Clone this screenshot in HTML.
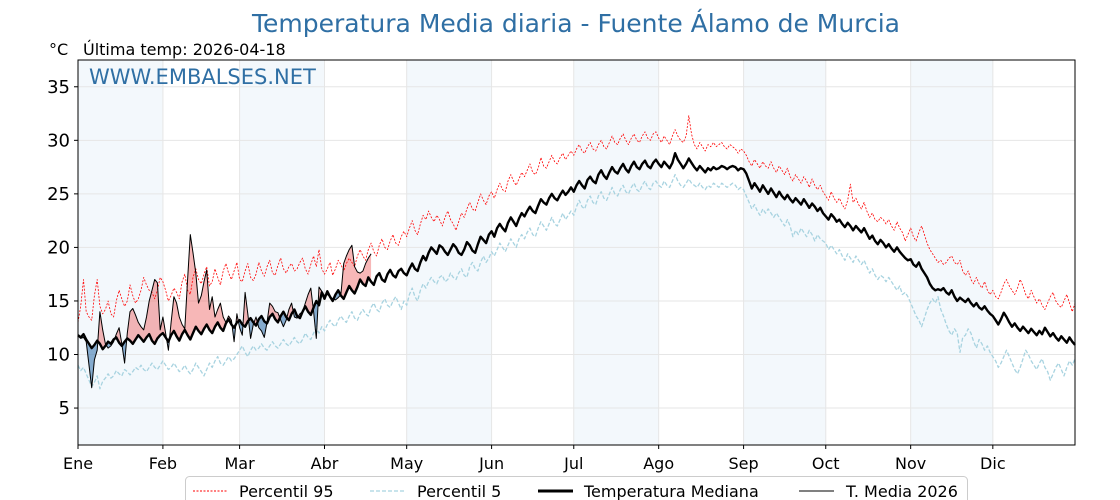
<!DOCTYPE html>
<html><head><meta charset="utf-8">
<style>
html,body{margin:0;padding:0;background:#fff;}
svg{display:block;font-family:"DejaVu Sans","Liberation Sans",sans-serif;}
</style></head>
<body>
<svg id="chart" width="1120" height="500" viewBox="0 0 1120 500" xmlns="http://www.w3.org/2000/svg">
<text x="576" y="32" text-anchor="middle" font-size="25" fill="#2f6fa4">Temperatura Media diaria - Fuente Álamo de Murcia</text>
<text x="49" y="55" font-size="16" fill="#000">°C</text>
<text x="83" y="55" font-size="16" fill="#000">Última temp: 2026-04-18</text>
<g id="bands"></g><g id="grid"></g><g id="fills"></g><g id="lines"></g><g id="axes"></g>
<text x="89" y="84" font-size="21" fill="#2f6fa4">WWW.EMBALSES.NET</text>
<g>
<rect x="185.5" y="476.5" width="782" height="30" rx="4" fill="#fff" stroke="#ccc"/>
<line x1="193" y1="491" x2="228" y2="491" stroke="red" stroke-width="1" stroke-dasharray="2,1.5"/>
<text x="239" y="497" font-size="16">Percentil 95</text>
<line x1="370" y1="491" x2="405" y2="491" stroke="#a8d3e0" stroke-width="1.3" stroke-dasharray="4,2"/>
<text x="417" y="497" font-size="16">Percentil 5</text>
<line x1="538" y1="491" x2="573" y2="491" stroke="#000" stroke-width="3"/>
<text x="584" y="497" font-size="16">Temperatura Mediana</text>
<line x1="799" y1="491" x2="834" y2="491" stroke="#000" stroke-width="1"/>
<text x="846" y="497" font-size="16">T. Media 2026</text>
</g>
</svg>
<script>
const monthLabels=["Ene","Feb","Mar","Abr","May","Jun","Jul","Ago","Sep","Oct","Nov","Dic"];
const monthStarts=[0,31,59,90,120,151,181,212,243,273,304,334];
const yTicks=[5,10,15,20,25,30,35];
const median=[11.8,11.6,11.9,11.4,11.0,10.6,10.9,11.3,11.0,10.5,10.8,11.2,11.0,11.4,11.6,11.1,10.8,11.2,11.5,11.3,11.0,11.4,11.8,11.5,11.2,11.6,11.9,11.3,11.0,11.5,11.8,
12.0,11.6,11.2,11.8,12.2,11.7,11.3,11.9,12.3,11.8,11.4,12.0,12.6,12.2,11.9,12.4,12.8,12.3,12.0,12.6,13.0,12.5,12.2,12.9,13.3,12.8,12.5,13.0,
13.2,12.8,12.6,13.1,13.4,13.0,12.7,13.3,13.6,13.1,12.9,13.5,13.8,13.3,13.0,13.6,14.0,13.5,13.2,13.8,14.2,13.6,13.4,14.0,14.5,14.0,13.7,14.4,15.0,14.6,15.8,
15.2,15.9,15.4,15.0,15.6,16.0,15.5,15.2,15.8,16.4,16.0,15.7,16.3,17.0,16.6,16.4,17.2,16.8,16.5,17.3,17.6,17.0,16.8,17.5,17.9,17.4,17.2,17.8,18.0,17.6,
17.4,18.0,18.5,18.0,17.8,18.6,19.2,18.8,19.5,20.0,19.7,19.4,20.2,20.0,19.6,19.3,19.8,20.3,20.0,19.5,19.3,19.8,20.5,20.2,19.7,19.5,20.3,21.0,20.7,20.4,21.2,
21.5,21.0,21.8,22.2,21.8,21.5,22.3,22.8,22.4,22.0,22.7,23.2,22.9,23.4,23.8,23.4,23.2,23.9,24.5,24.2,24.0,24.6,25.0,24.6,24.4,24.9,25.3,24.9,25.2,25.6,
25.2,25.8,26.2,25.8,25.5,26.3,26.6,26.2,26.0,26.8,27.2,26.7,26.4,27.0,27.5,27.1,26.9,27.4,27.8,27.3,27.0,27.6,28.0,27.5,27.3,27.8,28.1,27.6,27.4,27.9,28.2,
27.8,27.5,28.0,27.7,27.4,27.9,28.8,28.2,27.8,27.4,27.8,28.3,27.9,27.5,27.2,27.6,27.3,27.0,27.4,27.2,27.5,27.3,27.4,27.6,27.5,27.3,27.5,27.6,27.5,27.2,27.4,
27.3,26.9,26.2,25.5,26.0,25.6,25.2,25.8,25.4,25.0,25.5,25.1,24.7,25.2,24.8,24.5,24.9,24.5,24.2,24.6,24.3,24.0,24.5,24.1,23.7,24.1,23.8,23.4,23.7,23.2,
22.9,22.6,23.1,22.8,22.4,22.6,22.2,21.9,22.3,22.0,21.6,22.0,21.7,21.4,21.8,21.3,20.8,21.1,20.6,20.3,20.7,20.4,20.0,20.3,19.9,19.6,20.0,19.6,19.3,19.0,18.8,
18.9,18.4,18.2,18.6,18.0,17.6,17.2,16.6,16.2,16.0,16.1,16.0,16.2,15.8,15.6,16.0,15.4,15.0,15.3,15.1,14.9,15.2,14.8,14.5,14.8,14.4,14.2,14.5,14.1,13.8,
13.6,13.2,12.8,13.3,13.9,13.5,13.0,12.6,12.9,12.5,12.2,12.6,12.3,12.0,12.4,12.1,11.8,12.2,11.9,12.5,12.1,11.7,12.0,11.6,11.3,11.7,11.4,11.1,11.6,11.2,10.9];
const p95=[13.0,14.5,17.0,14.0,13.5,13.2,15.5,17.0,14.5,13.8,14.2,15.0,13.8,13.5,15.0,16.0,15.2,14.5,15.0,16.5,15.5,14.8,15.2,16.0,17.2,16.5,16.0,15.8,15.2,16.0,17.2,
16.8,16.0,15.0,15.5,16.2,15.8,15.2,16.8,17.5,16.0,15.6,17.2,18.0,17.0,16.6,17.5,18.2,16.4,16.8,18.0,17.2,16.5,17.8,18.5,17.6,17.0,17.8,18.6,
17.0,16.8,17.8,18.5,17.2,16.9,17.5,18.6,17.8,17.3,18.2,18.8,17.6,17.4,18.3,19.0,18.0,17.6,18.2,18.5,17.8,18.0,18.6,19.0,18.0,17.5,18.4,19.2,18.2,19.8,18.0,
17.5,18.0,18.6,17.4,18.0,18.8,18.4,17.8,18.5,19.0,18.6,18.2,19.2,19.8,19.2,18.8,19.8,20.4,19.6,19.2,20.2,20.8,20.0,19.8,20.6,21.2,20.4,20.2,21.0,21.5,
21.0,21.8,22.5,21.6,21.2,22.2,23.0,22.6,23.4,22.8,22.4,23.0,22.6,22.0,22.8,23.4,22.6,22.2,21.6,22.4,23.2,22.8,23.6,24.2,23.6,23.4,24.2,25.0,24.4,24.0,24.8,
25.2,24.6,25.4,26.0,25.4,25.2,26.2,26.8,26.2,25.8,26.4,27.0,26.6,27.2,27.8,27.0,26.8,27.4,28.4,27.6,27.4,28.0,28.6,28.0,27.8,28.4,28.8,28.2,28.6,29.0,
28.6,29.2,29.6,29.0,28.8,29.4,29.8,29.2,29.0,29.6,30.0,29.4,29.2,29.8,30.4,29.8,29.6,30.2,30.6,30.0,29.6,30.2,30.6,30.0,29.8,30.4,30.8,30.2,30.0,30.6,30.8,
30.2,29.8,30.4,30.0,29.6,30.4,31.0,30.4,30.0,29.8,30.4,32.3,30.6,29.6,29.2,29.8,29.4,29.0,29.6,29.4,29.8,29.4,29.6,29.8,29.4,29.2,29.6,29.4,29.2,28.8,29.2,
29.0,28.6,28.0,27.6,28.2,27.8,27.4,28.0,27.6,27.4,28.0,27.4,27.0,27.6,27.2,26.8,27.4,26.6,26.2,26.8,26.4,26.0,26.6,26.2,25.6,26.4,25.8,25.4,25.8,25.2,
24.8,24.4,25.2,24.6,24.2,24.6,24.0,23.6,24.4,25.9,24.2,24.6,24.0,23.6,24.2,23.4,22.8,23.2,22.6,22.4,22.8,22.6,22.2,22.6,22.0,21.6,22.4,21.8,21.4,20.6,21.2,
21.8,21.0,20.6,21.4,22.0,21.2,20.4,19.8,19.4,19.0,18.6,18.8,18.4,18.6,19.0,19.2,18.6,18.4,18.8,17.8,17.4,17.8,17.0,16.6,17.2,16.6,16.2,16.8,16.0,15.6,
16.0,15.4,15.2,15.8,16.6,17.0,16.4,16.0,15.6,16.2,17.0,16.4,15.6,15.2,16.0,15.4,14.8,15.2,14.6,14.2,14.8,15.4,15.8,15.0,14.6,14.4,15.0,15.6,14.8,14.0,14.8];
const p5=[9.0,8.5,8.8,8.2,7.6,7.0,7.4,8.0,6.8,7.5,7.8,8.2,7.8,8.0,8.5,8.2,8.0,8.6,8.4,8.1,8.4,8.8,8.6,9.0,8.6,8.4,8.8,9.2,8.8,8.6,9.0,
9.4,9.0,8.6,8.8,9.2,8.8,8.4,8.6,9.0,8.5,8.2,8.6,9.2,8.8,8.4,8.0,8.6,9.2,8.8,9.4,9.8,9.2,9.0,9.4,9.8,9.4,9.6,10.0,
10.4,10.8,10.2,9.8,10.4,10.8,10.4,10.6,11.0,10.6,10.4,10.8,11.2,10.8,10.6,11.0,11.4,11.0,10.8,11.2,11.6,11.2,11.0,11.4,12.0,11.6,11.4,12.0,12.5,12.0,12.6,
12.2,12.8,13.2,12.8,12.6,13.2,13.6,13.2,13.0,13.6,14.0,13.4,13.2,13.8,14.2,13.8,13.6,14.4,14.8,14.2,14.0,14.8,15.2,14.6,14.4,15.0,15.4,14.8,14.2,15.0,
14.6,15.6,16.2,15.4,15.0,16.0,16.6,16.2,16.8,17.2,16.8,16.6,17.2,17.4,16.8,17.0,17.6,17.2,17.0,17.6,18.0,17.4,17.2,18.2,18.6,18.0,17.8,18.6,19.2,18.6,19.0,
19.6,19.2,19.8,20.4,20.0,19.6,20.2,20.8,20.4,20.0,20.8,21.2,20.8,21.4,21.8,21.2,21.0,21.8,22.4,22.0,21.6,22.2,22.8,22.2,22.0,22.6,23.2,22.6,23.0,23.4,
23.0,23.8,24.4,23.8,23.6,24.4,24.8,24.2,24.0,24.8,25.2,24.6,24.4,25.0,25.6,25.0,24.8,25.4,25.8,25.2,25.0,25.6,26.0,25.4,25.2,25.8,26.2,25.6,25.4,26.0,26.2,
25.8,25.6,26.2,25.8,25.6,26.2,26.8,26.2,25.8,25.6,26.0,26.4,26.0,25.8,25.6,26.0,25.6,25.4,25.8,25.6,26.0,25.8,25.6,26.0,25.8,25.6,25.8,26.0,25.8,25.4,25.6,
25.4,24.8,24.2,23.6,24.0,23.4,23.0,23.6,23.2,23.6,23.2,22.8,23.2,22.8,22.4,22.0,22.6,22.0,21.0,21.6,21.2,21.8,21.4,21.0,21.6,21.2,20.6,21.2,20.8,20.6,
20.4,19.8,20.2,19.8,19.4,19.8,19.2,18.8,19.4,19.0,18.6,19.2,18.8,18.4,18.8,18.2,17.6,18.0,17.4,17.0,17.4,17.2,16.8,17.2,16.8,16.4,16.0,16.4,15.6,15.8,15.4,
14.8,14.2,13.6,13.2,12.6,13.4,14.2,14.8,15.2,14.8,15.4,14.2,13.6,12.8,12.2,11.8,12.4,12.0,10.2,11.6,11.8,12.4,12.0,11.2,10.6,11.4,11.0,10.4,10.8,10.2,
9.8,9.4,8.8,9.2,9.8,10.4,9.8,9.2,8.6,8.2,8.8,9.6,10.4,10.0,9.4,9.0,8.6,9.2,9.6,8.8,8.4,7.6,8.2,8.8,9.2,8.6,8.0,8.8,9.4,9.0,9.6];
const t2026=[11.8,11.5,11.6,11.2,9.0,6.9,9.5,10.4,14.0,12.3,11.0,10.6,10.8,11.2,11.9,12.5,11.0,9.2,12.0,14.0,14.3,13.7,13.0,12.6,12.3,13.5,15.0,16.0,17.0,16.7,
12.3,13.5,12.0,10.4,13.0,15.4,14.8,13.5,12.8,12.4,17.0,21.2,19.5,17.6,14.8,15.5,16.8,17.9,14.2,15.4,13.5,14.2,14.8,13.5,13.0,13.6,13.2,11.2,13.8,12.5,
11.8,15.8,13.8,11.5,12.8,13.5,12.5,12.2,11.6,13.0,14.8,14.5,14.0,13.9,13.2,12.6,13.2,14.2,14.8,13.5,13.4,13.8,14.0,14.8,15.6,16.2,14.0,11.5,16.3,15.9,
15.5,15.6,15.4,15.2,15.1,15.3,15.6,18.5,19.2,19.8,20.2,18.2,17.7,17.6,17.8,18.5,19.0,19.4];

const NS="http://www.w3.org/2000/svg";
const L=78,R=1075,T=60,B=445,yMin=1.55,yMax=37.5;
const xs=d=>L+d*(R-L)/364;
const ys=v=>B-(v-yMin)*(B-T)/(yMax-yMin);
function mk(tag,attrs,parent){const e=document.createElementNS(NS,tag);for(const k in attrs)e.setAttribute(k,attrs[k]);document.getElementById(parent).appendChild(e);return e;}

for(let i=0;i<12;i++){
  const x0=xs(monthStarts[i]),x1=Math.min(R,xs(i<11?monthStarts[i+1]:365));
  if(i%2===0){const r=mk('rect',{x:x0,y:T,width:x1-x0,height:B-T,fill:'#f3f8fc'},'bands');
    
    }
  mk('line',{x1:x0,y1:T,x2:x0,y2:B,stroke:'#e6e6e6','stroke-width':1},'grid');
  const t=mk('text',{x:x0,y:469,'text-anchor':'middle','font-size':16},'axes');
  t.textContent=monthLabels[i];
  
  
  mk('line',{x1:x0,y1:B,x2:x0,y2:B+4,stroke:'#000'},'axes');
}
for(const v of yTicks){
  const y=ys(v);
  mk('line',{x1:L,y1:y,x2:R,y2:y,stroke:'#e6e6e6','stroke-width':1},'grid');
  mk('line',{x1:L-4,y1:y,x2:L,y2:y,stroke:'#000'},'axes');
  const t=mk('text',{x:L-8,y:y+6,'text-anchor':'end','font-size':18},'axes');
  t.textContent=v;
  
  
}
const frame=mk('rect',{x:L,y:T,width:R-L,height:B-T,fill:'none',stroke:'#000','stroke-width':1},'axes');



function fillSeg(pts,above){
  if(pts.length<2)return;
  let d='M'+pts.map(p=>xs(p[0])+','+ys(p[1])).join('L');
  for(let i=pts.length-1;i>=0;i--){d+='L'+xs(pts[i][0])+','+ys(pts[i][2]);}
  const p=mk('path',{d:d+'Z',fill:above?'rgba(236,84,84,0.42)':'rgba(60,120,175,0.6)',stroke:'none'},'fills');
  
  
}
let seg=[],sign=null;
for(let i=0;i<t2026.length;i++){
  const a=t2026[i],m=median[i],s=a>=m;
  if(sign===null){sign=s;seg=[[i,a,m]];continue;}
  if(s!==sign){
    const pa=t2026[i-1],pm=median[i-1];
    const f=(pa-pm)/((pa-pm)-(a-m));
    const cx=i-1+f,cv=pa+f*(a-pa);
    seg.push([cx,cv,cv]);fillSeg(seg,sign);
    seg=[[cx,cv,cv]];sign=s;
  }
  seg.push([i,a,m]);
}
fillSeg(seg,sign);

function line(arr,attrs,name){
  const d='M'+arr.map((v,i)=>xs(i).toFixed(1)+','+ys(v).toFixed(1)).join('L');
  const p=mk('path',Object.assign({d:d,fill:'none','stroke-linejoin':'round'},attrs),'lines');
  
  
}
line(p95,{stroke:'red','stroke-width':0.8,'stroke-dasharray':'2,1.5'},'percentil-95-line');
line(p5,{stroke:'#a8d3e0','stroke-width':1.3,'stroke-dasharray':'4,2'},'percentil-5-line');
line(median,{stroke:'#000','stroke-width':2.4},'median-line');
line(t2026,{stroke:'#000','stroke-width':1},'t-media-2026-line');
</script>
</body></html>
